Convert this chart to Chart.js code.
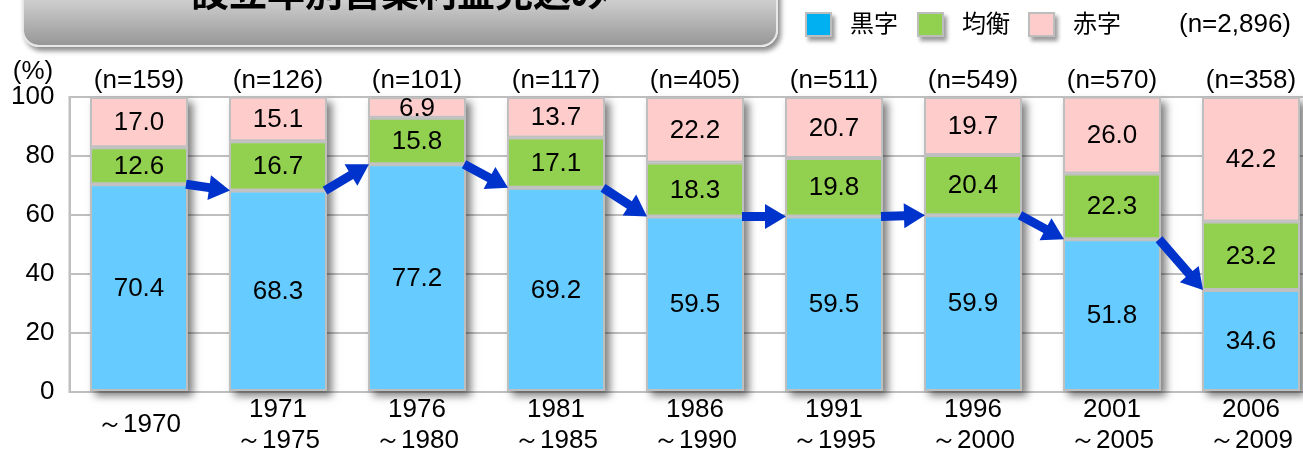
<!DOCTYPE html>
<html><head><meta charset="utf-8">
<script src="https://cdn.jsdelivr.net/npm/chart.js@4.4.1/dist/chart.umd.min.js"></script>
<style>
html,body{margin:0;padding:0;background:#fff;overflow:hidden;width:1303px;height:451px;}
#wrap{position:relative;width:1303px;height:451px;overflow:hidden;}
#c{position:absolute;left:0;top:0;}
#titlebox{position:absolute;left:22px;top:-30px;width:752px;height:73px;border-radius:17px;
 background:linear-gradient(#e2e2e2 0%, #cdcdcd 40%, #979797 100%);
 border:2px solid #e8e8e8;box-shadow:3px 4px 5px rgba(0,0,0,0.45);overflow:hidden;}
#title{position:absolute;left:0;right:0;top:-1px;text-align:center;font:bold 38px 'Noto Sans CJK JP',sans-serif;line-height:38px;color:#000;}
.lg{position:absolute;font:24px 'Noto Sans CJK JP',sans-serif;color:#000;line-height:26px;}
.sq{position:absolute;width:23px;height:21px;border:2px solid #bdbdbd;box-shadow:3px 4px 4px rgba(0,0,0,0.4);}
#ntot{position:absolute;left:1179px;top:8px;font:26px 'Liberation Sans',Arial,sans-serif;color:#000;}
</style></head>
<body><div id="wrap">
<canvas id="c" width="1340" height="451"></canvas>
<div id="titlebox"><div id="title">設立年別営業利益見込み</div></div>
<div class="sq" style="left:805px;top:12px;background:#00B0F0"></div><div class="lg" style="left:850px;top:9px">黒字</div>
<div class="sq" style="left:917px;top:12px;background:#92D050"></div><div class="lg" style="left:962px;top:9px">均衡</div>
<div class="sq" style="left:1028px;top:12px;background:#FFCCCC"></div><div class="lg" style="left:1073px;top:9px">赤字</div>
<div id="ntot">(n=2,896)</div>
</div>
<script>
const categories = [["～1970"],["1971","～1975"],["1976","～1980"],["1981","～1985"],["1986","～1990"],["1991","～1995"],["1996","～2000"],["2001","～2005"],["2006","～2009"]];
const sampleSizes = [159,126,101,117,405,511,549,570,358];
const kuroji = [70.4,68.3,77.2,69.2,59.5,59.5,59.9,51.8,34.6];
const kinkou = [12.6,16.7,15.8,17.1,18.3,19.8,20.4,22.3,23.2];
const akaji = [17.0,15.1,6.9,13.7,22.2,20.7,19.7,26.0,42.2];
const seriesNames = ["黒字","均衡","赤字"];
const yTicks = [0,20,40,60,80,100];

const FONT = "'Liberation Sans', Arial, sans-serif";
const GRID = '#BFBFBF';
const FS = 26;

const decor = {
  id:'decor',
  beforeDatasetsDraw(chart){
    const ctx = chart.ctx, ca = chart.chartArea;
    const m0 = chart.getDatasetMeta(0), m2 = chart.getDatasetMeta(2);
    ctx.save();
    ctx.strokeStyle = GRID; ctx.lineWidth = 2;
    ctx.strokeRect(ca.left, ca.top, ca.right-ca.left, ca.bottom-ca.top);
    ctx.shadowColor = 'rgba(0,0,0,0.5)';
    ctx.shadowOffsetX = 5; ctx.shadowOffsetY = 5; ctx.shadowBlur = 8;
    ctx.fillStyle = '#ccc';
    m0.data.forEach((b,i)=>{
      const t = m2.data[i];
      const w = b.width;
      ctx.fillRect(b.x - w/2, t.y, w, b.base - t.y);
    });
    ctx.restore();
  },
  afterDatasetsDraw(chart){
    const ctx = chart.ctx, ca = chart.chartArea;
    ctx.save();
    ctx.fillStyle = '#000'; ctx.font = FS + 'px ' + FONT;
    ctx.textAlign = 'center'; ctx.textBaseline = 'middle';
    chart.data.datasets.forEach((ds,di)=>{
      chart.getDatasetMeta(di).data.forEach((b,i)=>{
        ctx.fillText(ds.data[i].toFixed(1), b.x, (b.y + b.base)/2 + 1);
      });
    });
    const m0 = chart.getDatasetMeta(0);
    ctx.fillStyle = '#0033CC';
    for (let i=0;i<m0.data.length-1;i++){
      const a = m0.data[i], b = m0.data[i+1];
      arrow(ctx, a.x + a.width/2 - 2, a.y, b.x - b.width/2 + 1, b.y);
    }
    ctx.fillStyle = '#000'; ctx.font = FS + 'px ' + FONT;
    ctx.textBaseline = 'middle';
    m0.data.forEach((b,i)=>{ ctx.fillText('(n=' + sampleSizes[i] + ')', b.x, ca.top - 16); });
    ctx.fillText('(%)', 33, 72);
    const xs = chart.scales.x;
    categories.forEach((lab,i)=>{
      const x = xs.getPixelForValue(i);
      if (lab.length === 1) ctx.fillText(lab[0], x, 425);
      else { ctx.fillText(lab[0], x, 410); ctx.fillText(lab[1], x, 441); }
    });
    ctx.restore();
  }
};
function arrow(ctx,x1,y1,x2,y2){
  const dx=x2-x1, dy=y2-y1, L=Math.hypot(dx,dy);
  const ux=dx/L, uy=dy/L, nx=-uy, ny=ux;
  const hl=21, hw=12.5, sw=4.5;
  const bx=x2-ux*hl, by=y2-uy*hl;
  ctx.beginPath();
  ctx.moveTo(x1+nx*sw, y1+ny*sw);
  ctx.lineTo(bx+nx*sw, by+ny*sw);
  ctx.lineTo(bx+nx*hw, by+ny*hw);
  ctx.lineTo(x2, y2);
  ctx.lineTo(bx-nx*hw, by-ny*hw);
  ctx.lineTo(bx-nx*sw, by-ny*sw);
  ctx.lineTo(x1-nx*sw, y1-ny*sw);
  ctx.closePath(); ctx.fill();
}

const colors = ['#66CCFF','#92D050','#FFCCCC'];
new Chart(document.getElementById('c'), {
  type:'bar',
  data:{
    labels: categories.map(c=>c.join(' ')),
    datasets:[kuroji,kinkou,akaji].map((d,i)=>({
      label: seriesNames[i], data:d, backgroundColor:colors[i],
      borderColor:'#BFBFBF', borderWidth:2, borderSkipped:false,
      barPercentage:0.705, categoryPercentage:1.0
    }))
  },
  options:{
    responsive:false, animation:false,
    layout:{padding:{top:97,bottom:59,left:0,right:19.5}},
    plugins:{legend:{display:false},tooltip:{enabled:false}},
    scales:{
      x:{stacked:true, display:false},
      y:{stacked:true, min:0, max:100,
        afterFit(s){ s.width = 69.5; },
        afterBuildTicks(s){ s.ticks = yTicks.map(v=>({value:v})); },
        grid:{color:GRID, lineWidth:2, drawTicks:false},
        border:{display:true, color:GRID, width:2},
        ticks:{color:'#000', font:{family:FONT, size:FS}, padding:15}
      }
    }
  },
  plugins:[decor]
});
</script>
</body></html>
